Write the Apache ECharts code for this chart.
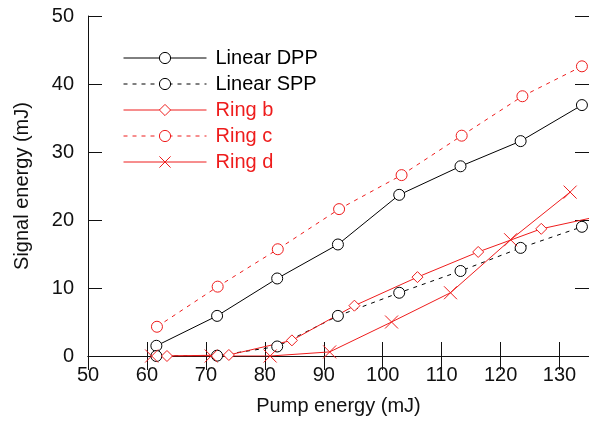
<!DOCTYPE html>
<html><head><meta charset="utf-8">
<script src="https://cdn.jsdelivr.net/npm/echarts@6/dist/echarts.min.js"></script>
<style>html,body{margin:0;padding:0;background:#fff}#c{width:589px;height:421px}</style>
</head><body><div id="c"></div>
<script>
var xTicks = [50, 60, 70, 80, 90, 100, 110, 120, 130];
var yTicks = [0, 10, 20, 30, 40, 50];
var dppX = [61.6, 71.9, 82.1, 92.4, 102.8, 113.2, 123.4, 133.8];
var dppY = [1.5, 5.9, 11.4, 16.4, 23.7, 27.9, 31.6, 36.9];
var sppX = [61.6, 71.9, 82.1, 92.4, 102.8, 113.2, 123.4, 133.8];
var sppY = [0, 0.05, 1.4, 5.9, 9.3, 12.5, 15.9, 19.0];
var ringbX = [63.4, 73.9, 84.6, 95.2, 105.9, 116.2, 126.9, 137.5];
var ringbY = [0, 0.15, 2.3, 7.4, 11.6, 15.3, 18.7, 20.7];
var ringcX = [61.7, 72.0, 82.2, 92.6, 103.2, 113.4, 123.7, 133.8];
var ringcY = [4.3, 10.2, 15.7, 21.6, 26.6, 32.4, 38.2, 42.6];
var ringdX = [60.8, 70.9, 80.9, 91.0, 101.5, 111.5, 121.7, 131.8];
var ringdY = [0, 0, 0, 0.6, 5.0, 9.3, 17.1, 24.1];
var names = ['Linear DPP', 'Linear SPP', 'Ring b', 'Ring c', 'Ring d'];

function pairs(xs, ys){ return xs.map(function(x,i){ return [x, ys[i]]; }); }
var RED = '#ee1c1c', BLK = '#000';
var FONT = '"Liberation Sans", Arial, sans-serif';
var crossPath = 'path://M0,0L10,10M10,0L0,10';

var chart = echarts.init(document.getElementById('c'), null, {renderer:'canvas'});
var axisCommon = {
  axisLine:{show:true, lineStyle:{color:'#111', width:1}},
  axisTick:{show:true, inside:true, length:14, lineStyle:{color:'#111'}},
  splitLine:{show:false}
};
function hollow(c){ return {color:'#fff', borderColor:c, borderWidth:1}; }
chart.setOption({
  animation:false,
  grid:{left:88, top:16, right:-8, bottom:65},
  legend:{
    orient:'vertical', left:123, top:48, padding:0, itemWidth:83, itemHeight:14, itemGap:6,
    itemStyle:{borderWidth:1}, lineStyle:{width:1},
    textStyle:{fontFamily:FONT, fontSize:20, lineHeight:20, padding:[0,0,0,4]},
    data:[
      {name:names[0], textStyle:{color:BLK}},
      {name:names[1], textStyle:{color:BLK}},
      {name:names[2], textStyle:{color:RED}},
      {name:names[3], textStyle:{color:RED}},
      {name:names[4], textStyle:{color:RED}}
    ]
  },
  xAxis:[
    Object.assign({type:'value', min:50, max:135, interval:10, position:'bottom',
      name:'Pump energy (mJ)', nameLocation:'middle', nameGap:40,
      nameTextStyle:{fontFamily:FONT, fontSize:20, color:'#111'},
      axisLabel:{fontFamily:FONT, fontSize:20, color:'#111', margin:9, showMaxLabel:false,
        formatter:function(v){ return xTicks.indexOf(v) >= 0 ? String(v) : ''; }}}, axisCommon),
    Object.assign({type:'value', min:50, max:135, interval:10, position:'top',
      axisLabel:{show:false}}, axisCommon)
  ],
  yAxis:[
    Object.assign({type:'value', min:0, max:50, interval:10, position:'left',
      name:'Signal energy (mJ)', nameLocation:'middle', nameGap:56,
      nameTextStyle:{fontFamily:FONT, fontSize:20, color:'#111'},
      axisLabel:{fontFamily:FONT, fontSize:20, color:'#111', margin:14,
        formatter:function(v){ return yTicks.indexOf(v) >= 0 ? String(v) : ''; }}}, axisCommon),
    Object.assign({type:'value', min:0, max:50, interval:10, position:'right',
      axisLabel:{show:false}}, axisCommon)
  ],
  series:[
    {name:names[0], type:'line', data:pairs(dppX, dppY), symbol:'circle', symbolSize:11,
      lineStyle:{color:BLK, width:1}, itemStyle:hollow(BLK)},
    {name:names[1], type:'line', data:pairs(sppX, sppY), symbol:'circle', symbolSize:11,
      lineStyle:{color:BLK, width:1, type:[4,5]}, itemStyle:hollow(BLK)},
    {name:names[2], type:'line', data:pairs(ringbX, ringbY), symbol:'diamond', symbolSize:11,
      lineStyle:{color:RED, width:1}, itemStyle:hollow(RED)},
    {name:names[3], type:'line', data:pairs(ringcX, ringcY), symbol:'circle', symbolSize:11,
      lineStyle:{color:RED, width:1, type:[4,5]}, itemStyle:hollow(RED)},
    {name:names[4], type:'line', data:pairs(ringdX, ringdY), symbol:crossPath, symbolSize:13,
      lineStyle:{color:RED, width:1}, itemStyle:{color:RED, borderColor:RED, borderWidth:1}}
  ]
});
</script></body></html>
